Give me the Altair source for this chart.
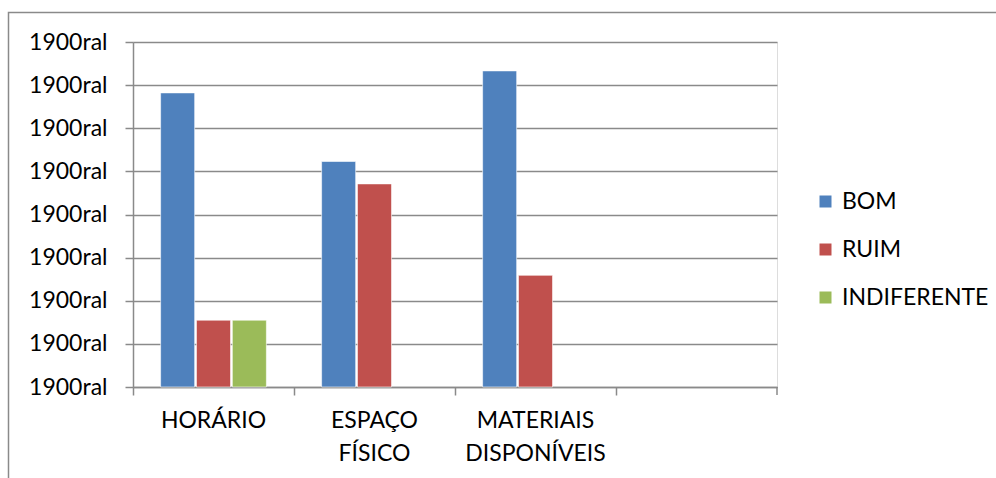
import altair as alt
import pandas as pd

categories = ["HORÁRIO", "ESPAÇO FÍSICO", "MATERIAIS DISPONÍVEIS", " "]
series = ["BOM", "RUIM", "INDIFERENTE"]
colors = ["#4F81BD", "#C0504D", "#9BBB59"]

bom = [68.2, 52.3, 73.3]
ruim = [15.5, 47.1, 25.9]
indiferente = [15.5]

rows = []
for c, v in zip(categories, bom):
    rows.append({"cat": c, "serie": "BOM", "valor": v})
for c, v in zip(categories, ruim):
    rows.append({"cat": c, "serie": "RUIM", "valor": v})
for c, v in zip(categories, indiferente):
    rows.append({"cat": c, "serie": "INDIFERENTE", "valor": v})
df = pd.DataFrame(rows)

FONT = "Lato"
GRAY = "#8a8a8a"
W, H = 644, 345

bars = alt.Chart(df).mark_bar(stroke="white", strokeWidth=0.6).encode(
    x=alt.X("cat:N", sort=categories,
            scale=alt.Scale(domain=categories, paddingInner=0, paddingOuter=0),
            axis=alt.Axis(title=None, labelAngle=0, bandPosition=0, tickSize=8,
                          labelPadding=14, labelExpr="split(datum.label, ' ')",
                          labelLineHeight=33, labelFont=FONT, labelFontSize=23,
                          labelColor="black", domainColor=GRAY, tickColor=GRAY,
                          domainWidth=1.5, tickWidth=1.5, grid=False)),
    xOffset=alt.XOffset("serie:N",
                        scale=alt.Scale(domain=series, paddingInner=0.05, paddingOuter=0.77)),
    y=alt.Y("valor:Q", scale=alt.Scale(domain=[0, 80], nice=False),
            axis=alt.Axis(title=None, values=[0, 10, 20, 30, 40, 50, 60, 70, 80],
                          labelExpr="'1900ral'", tickSize=8, labelPadding=18,
                          labelFont=FONT, labelFontSize=23, labelColor="black",
                          domainColor=GRAY, tickColor=GRAY, domainWidth=1.5, tickWidth=1.5,
                          gridColor=GRAY, gridWidth=1.5)),
    color=alt.Color("serie:N", scale=alt.Scale(domain=series, range=colors),
                    legend=alt.Legend(title=None, orient="none", legendX=681, legendY=148,
                                      padding=0, symbolType="square", symbolSize=144,
                                      symbolStrokeWidth=0, labelFont=FONT,
                                      labelFontSize=23, labelColor="black",
                                      labelOffset=5, rowPadding=24)),
)

one = pd.DataFrame({"a": [0]})
border = alt.Chart(one).mark_rect(fill=None, stroke=GRAY, strokeWidth=1.5).encode(
    x=alt.value(-124.5), x2=alt.value(1000), y=alt.value(-29.5), y2=alt.value(500)
)
endtick = alt.Chart(one).mark_rule(color=GRAY, strokeWidth=1.5).encode(
    x=alt.value(W), y=alt.value(H), y2=alt.value(H + 8)
)

chart = alt.layer(border, bars, endtick).properties(
    width=W, height=H,
    autosize=alt.AutoSizeParams(type="none"),
    padding={"left": 133, "top": 42, "right": 996 - 133 - W, "bottom": 478 - 42 - H},
).configure_view(stroke=None).configure(background="white")

chart.save("out.html", embed_options={"renderer": "svg", "actions": False})
